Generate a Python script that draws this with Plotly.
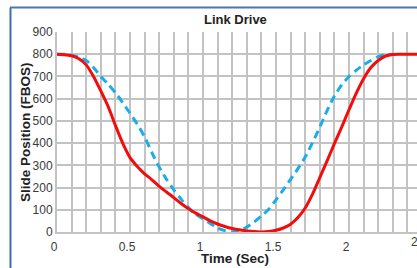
import plotly.graph_objects as go

# ---- data ----
t_red = [0, 0.05, 0.1, 0.15, 0.2, 0.25, 0.3, 0.35, 0.4, 0.45, 0.5, 0.55, 0.6, 0.65, 0.7, 0.75,
         0.8, 0.85, 0.9, 0.95, 1.0, 1.05, 1.1, 1.15, 1.2, 1.25, 1.3, 1.35, 1.4, 1.45, 1.5, 1.55,
         1.6, 1.65, 1.7, 1.75, 1.8, 1.85, 1.9, 1.95, 2.0, 2.05, 2.1, 2.15, 2.2, 2.25, 2.3, 2.35, 2.5]
red_pos = [800, 798, 793, 780, 752, 700, 635, 565, 480, 400, 335, 295, 262, 235, 205, 180,
           155, 128, 105, 85, 68, 50, 36, 25, 16, 10, 5, 2, 0, 2, 8, 18,
           35, 65, 108, 170, 245, 320, 398, 472, 550, 625, 690, 740, 772, 792, 799, 800, 800]

t_blue = [0, 0.05, 0.1, 0.15, 0.2, 0.25, 0.3, 0.35, 0.4, 0.45, 0.5, 0.55, 0.6, 0.65, 0.7, 0.75,
          0.8, 0.85, 0.9, 0.95, 1.0, 1.05, 1.1, 1.15, 1.2, 1.25, 1.3, 1.35, 1.4, 1.45, 1.5, 1.55,
          1.6, 1.65, 1.7, 1.75, 1.8, 1.85, 1.9, 1.95, 2.0, 2.05, 2.1, 2.15, 2.2, 2.25, 2.3]
blue_pos = [800, 800, 796, 786, 772, 740, 700, 665, 627, 582, 534, 485, 428, 357, 292, 237,
            190, 148, 110, 80, 60, 38, 18, 6, 1, 7, 22, 45, 72, 102, 145, 190,
            237, 285, 337, 402, 472, 546, 612, 662, 700, 728, 752, 772, 789, 798, 800]

x_tick_vals = [0, 0.5, 1, 1.5, 2]
x_tick_text = ["0", "0.5", "1", "1.5", "2"]
y_tick_vals = [0, 100, 200, 300, 400, 500, 600, 700, 800, 900]

title_text = "Link Drive"
x_title = "Time (Sec)"
y_title = "Slide Position (FBOS)"

# ---- figure ----
W, H = 417, 268
L, R, T, B = 57, 0, 32, 36
PW, PH = W - L - R, H - T - B
XMAX = PW / 146.0  # 146 px per second in reference


def px_x(px):
    return (px - L) / PW


def px_y(py):
    return (H - B - py) / PH


fig = go.Figure()
fig.add_trace(go.Scatter(x=t_blue, y=blue_pos, mode="lines",
                         line=dict(color="#1aaee8", width=3, dash="8px,5px", shape="spline", smoothing=0.7),
                         showlegend=False, hoverinfo="skip"))
fig.add_trace(go.Scatter(x=t_red, y=red_pos, mode="lines",
                         line=dict(color="#f20c0c", width=3, shape="spline", smoothing=0.7),
                         showlegend=False, hoverinfo="skip"))

font_main = "Liberation Sans, Arial, sans-serif"
grid_col = "#c3c3c3"

fig.update_layout(
    width=W, height=H,
    margin=dict(l=L, r=R, t=T, b=B, pad=0, autoexpand=False),
    paper_bgcolor="white", plot_bgcolor="white",
    font=dict(family=font_main, size=12, color="#3a3a3a"),
    xaxis=dict(range=[0, XMAX], tickvals=x_tick_vals, ticktext=x_tick_text,
               showgrid=False, zeroline=False, showline=True, linecolor=grid_col, linewidth=2,
               ticks="", ticklabelshift=-3, ticklabelstandoff=3, automargin=False,
               tickfont=dict(family=font_main, size=12, color="#3a3a3a"),
               minor=dict(dtick=0.1, tick0=0, showgrid=True, gridcolor=grid_col, gridwidth=2),
               fixedrange=True),
    yaxis=dict(range=[0, 900], tickvals=y_tick_vals,
               showgrid=True, gridcolor=grid_col, gridwidth=2, zeroline=False,
               showline=True, linecolor=grid_col, linewidth=2, ticks="", ticklabelstandoff=0,
               automargin=False,
               tickfont=dict(family=font_main, size=12, color="#3a3a3a"),
               fixedrange=True),
)

annotations = [
    dict(text="<b>" + title_text + "</b>", x=px_x(235), y=px_y(19), xref="paper", yref="paper",
         showarrow=False, xanchor="center", yanchor="middle",
         font=dict(family=font_main, size=13, color="#222")),
    dict(text="<b>" + x_title + "</b>", x=px_x(235), y=px_y(258), xref="paper", yref="paper",
         showarrow=False, xanchor="center", yanchor="middle",
         font=dict(family=font_main, size=13.5, color="#222")),
    dict(text="<b>" + y_title + "</b>", x=px_x(25), y=px_y(132), xref="paper", yref="paper",
         showarrow=False, xanchor="center", yanchor="middle", textangle=-90,
         font=dict(family=font_main, size=13.5, color="#222")),
    dict(text="2.5", x=px_x(419), y=px_y(242), xref="paper", yref="paper",
         showarrow=False, xanchor="center", yanchor="middle",
         font=dict(family=font_main, size=12, color="#3a3a3a")),
]
fig.update_layout(annotations=annotations)

# frame border (steel blue) at left and top
fig.add_shape(type="line", xref="paper", yref="paper",
              x0=px_x(10.5), x1=px_x(10.5), y0=px_y(7.5), y1=px_y(270),
              line=dict(color="#3d6ea8", width=2))
fig.add_shape(type="line", xref="paper", yref="paper",
              x0=px_x(10), x1=px_x(420), y0=px_y(7.5), y1=px_y(7.5),
              line=dict(color="#4a76a8", width=2))

fig.write_html("out.html", config={"displayModeBar": False, "staticPlot": True},
               post_script="document.body.style.margin='0';document.body.style.overflow='hidden';")
